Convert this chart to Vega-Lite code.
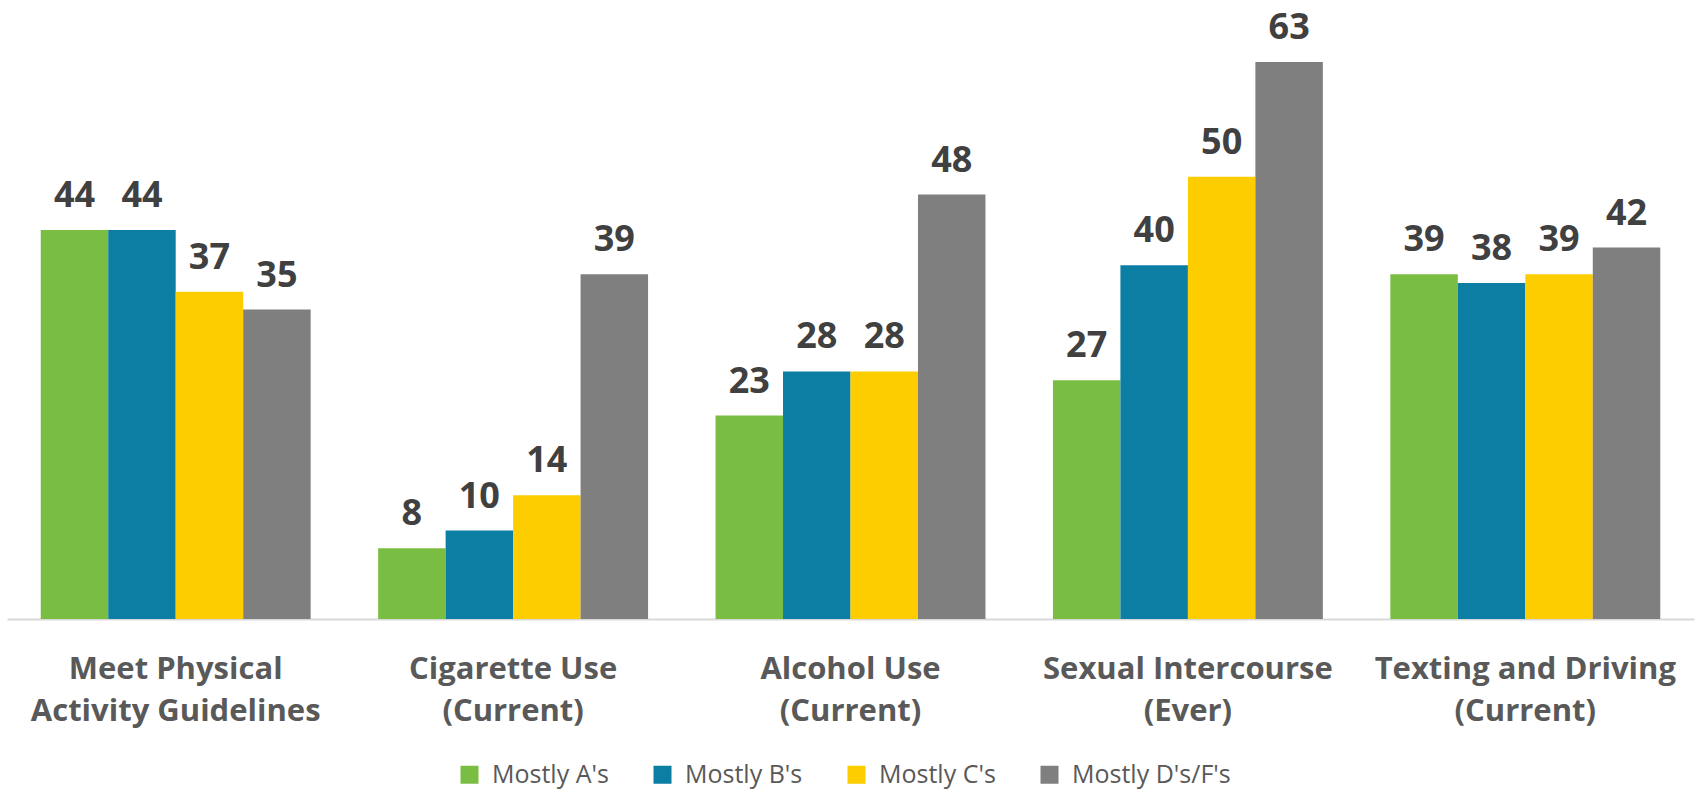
{
  "$schema": "https://vega.github.io/schema/vega-lite/v6.json",
  "autosize": "none",
  "width": 1687,
  "height": 619,
  "padding": {"left": 7, "top": 0, "right": 2, "bottom": 173},
  "background": "white",
  "config": {"view": {"stroke": null}},
  "data": {"values": [
    {"category": "Meet Physical Activity Guidelines", "group": "Mostly A's", "value": 44},
    {"category": "Meet Physical Activity Guidelines", "group": "Mostly B's", "value": 44},
    {"category": "Meet Physical Activity Guidelines", "group": "Mostly C's", "value": 37},
    {"category": "Meet Physical Activity Guidelines", "group": "Mostly D's/F's", "value": 35},
    {"category": "Cigarette Use (Current)", "group": "Mostly A's", "value": 8},
    {"category": "Cigarette Use (Current)", "group": "Mostly B's", "value": 10},
    {"category": "Cigarette Use (Current)", "group": "Mostly C's", "value": 14},
    {"category": "Cigarette Use (Current)", "group": "Mostly D's/F's", "value": 39},
    {"category": "Alcohol Use (Current)", "group": "Mostly A's", "value": 23},
    {"category": "Alcohol Use (Current)", "group": "Mostly B's", "value": 28},
    {"category": "Alcohol Use (Current)", "group": "Mostly C's", "value": 28},
    {"category": "Alcohol Use (Current)", "group": "Mostly D's/F's", "value": 48},
    {"category": "Sexual Intercourse (Ever)", "group": "Mostly A's", "value": 27},
    {"category": "Sexual Intercourse (Ever)", "group": "Mostly B's", "value": 40},
    {"category": "Sexual Intercourse (Ever)", "group": "Mostly C's", "value": 50},
    {"category": "Sexual Intercourse (Ever)", "group": "Mostly D's/F's", "value": 63},
    {"category": "Texting and Driving (Current)", "group": "Mostly A's", "value": 39},
    {"category": "Texting and Driving (Current)", "group": "Mostly B's", "value": 38},
    {"category": "Texting and Driving (Current)", "group": "Mostly C's", "value": 39},
    {"category": "Texting and Driving (Current)", "group": "Mostly D's/F's", "value": 42}
  ]},
  "encoding": {
    "x": {
      "field": "category", "type": "nominal", "sort": null,
      "scale": {"paddingInner": 0.2, "paddingOuter": 0.1},
      "axis": {
        "title": null,
        "labelAngle": 0,
        "ticks": false,
        "tickSize": 0,
        "domainColor": "#D9D9D9",
        "domainWidth": 2,
        "labelFont": "Open Sans",
        "labelFontWeight": "bold",
        "labelFontSize": 31,
        "labelColor": "#595959",
        "labelBaseline": "alphabetic",
        "labelPadding": 59,
        "labelLineHeight": 42,
        "labelLimit": 0,
        "labelOverlap": false,
        "labelExpr": "indexof(datum.value, '(') > 0 ? [substring(datum.value, 0, indexof(datum.value, '(') - 1), substring(datum.value, indexof(datum.value, '('))] : ['Meet Physical', 'Activity Guidelines']"
      }
    },
    "xOffset": {"field": "group", "type": "nominal", "sort": null, "scale": {"paddingInner": 0, "paddingOuter": 0}},
    "y": {
      "field": "value", "type": "quantitative",
      "scale": {"domain": [0, 70], "nice": false},
      "axis": null
    }
  },
  "layer": [
    {
      "mark": {"type": "bar"},
      "encoding": {
        "color": {
          "field": "group", "type": "nominal", "sort": null,
          "scale": {"domain": ["Mostly A's", "Mostly B's", "Mostly C's", "Mostly D's/F's"], "range": ["#7ABD43", "#0C7DA3", "#FDCD00", "#7F7F7F"]},
          "legend": {
            "title": null,
            "orient": "none",
            "direction": "horizontal",
            "legendX": 450,
            "legendY": 762,
            "symbolType": "square",
            "symbolSize": 324,
            "symbolStrokeWidth": 0,
            "labelFont": "Open Sans",
            "labelFontSize": 25,
            "labelColor": "#595959",
            "labelOffset": 10,
            "columnPadding": 41,
            "labelLimit": 400
          }
        }
      }
    },
    {
      "mark": {"type": "text", "baseline": "alphabetic", "dy": -23, "font": "Open Sans", "fontWeight": "bold", "fontSize": 36, "color": "#404040"},
      "encoding": {"text": {"field": "value", "type": "quantitative"}}
    }
  ]
}
